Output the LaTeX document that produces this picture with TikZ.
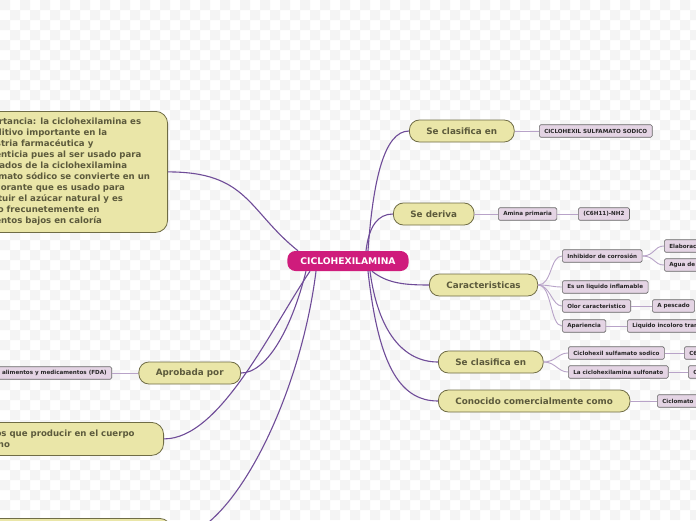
\documentclass[tikz,border=0pt]{standalone}
\usepackage{fontspec}
\setmainfont{DejaVu Sans}

\definecolor{midfill}{HTML}{CF1C7C}
\definecolor{topicfill}{HTML}{EAE6A8}
\definecolor{topicline}{HTML}{6F6C45}
\definecolor{topictext}{HTML}{5C5A3C}
\definecolor{leaffill}{HTML}{E4D4E4}
\definecolor{leafline}{HTML}{666666}
\definecolor{trunkcol}{HTML}{6F4C98}
\definecolor{twigcol}{HTML}{B8A3C8}
\definecolor{bgsq}{HTML}{F4F4F4}

\tikzset{
  mainbox/.style={rounded corners=8pt, fill=midfill, text=white,
    font=\fontsize{9.2}{10}\selectfont\bfseries, minimum height=20pt, inner xsep=13pt},
  topic/.style={rounded corners=10pt, draw=topicline, line width=0.8pt, fill=topicfill,
    text=topictext, font=\fontsize{8.8}{10}\selectfont\bfseries, minimum height=22pt, inner xsep=17pt},
  note/.style={rounded corners=12pt, draw=topicline, line width=0.8pt, fill=topicfill,
    text=topictext, font=\fontsize{8.6}{11}\selectfont\bfseries, align=left, inner ysep=6pt},
  leaf/.style={rounded corners=1.5pt, draw=leafline, line width=0.6pt, fill=leaffill,
    text=black!85, font=\fontsize{5.6}{6}\selectfont\bfseries, minimum height=12.5pt,
    inner xsep=5pt, inner ysep=0pt},
  trunk/.style={draw=trunkcol, line width=1.1pt},
  twig/.style={draw=twigcol, line width=0.9pt},
}

\begin{document}
\begin{tikzpicture}[x=1pt, y=-1pt]
    \useasboundingbox (0,0) rectangle (696,520);
    \clip (0,0) rectangle (696,520);
    \fill[white] (0,0) rectangle (696,520);
    \foreach \i in {0,20,...,680}
      \foreach \j in {0,20,...,500}
        \fill[bgsq] (\i,\j) rectangle ++(10,10) (\i+10,\j+10) rectangle ++(10,10);

    % centre
    \node[mainbox] (mid) at (348,261) {CICLOHEXILAMINA};

    % right side
    \node[topic, anchor=west] (clas) at (409,131) {Se clasifica en};
    \node[leaf, anchor=west] (sulf) at (539,131) {CICLOHEXIL SULFAMATO SODICO};

    \node[topic, anchor=west] (deriva) at (393,214) {Se deriva};
    \node[leaf, anchor=west] (amina) at (498,214) {Amina primaria};
    \node[leaf, anchor=west] (formula) at (578,214) {(C6H11)-NH2};

    \node[topic, anchor=west] (carac) at (429,285) {Caracteristicas};
    \node[leaf, anchor=west] (inhib) at (562,256) {Inhibidor de corrosión};
    \node[leaf, anchor=west] (elab) at (664,246) {Elaboración};
    \node[leaf, anchor=west] (agua) at (664,265) {Agua de calderas};
    \node[leaf, anchor=west] (infl) at (562,287) {Es un liquido inflamable};
    \node[leaf, anchor=west] (olor) at (562,306) {Olor caracteristico};
    \node[leaf, anchor=west] (pesc) at (652,306) {A pescado};
    \node[leaf, anchor=west] (apar) at (562,326) {Apariencia};
    \node[leaf, anchor=west] (liq) at (627,326) {Liquido incoloro transparente};

    \node[topic, anchor=west] (clasb) at (438,362) {Se clasifica en};
    \node[leaf, anchor=west] (csod) at (568,353) {Ciclohexil sulfamato sodico};
    \node[leaf, anchor=west] (csodf) at (684,353) {C6H12NNaO3S};
    \node[leaf, anchor=west] (csul) at (568,372) {La ciclohexilamina sulfonato};
    \node[leaf, anchor=west] (csulf) at (688,372) {C6H13NO3S};

    \node[topic, anchor=west] (cono) at (438,401) {Conocido comercialmente como};
    \node[leaf, anchor=west] (ciclo) at (657,401) {Ciclomato};

    % left side
    \node[note, anchor=north east, inner xsep=17.5pt, minimum height=121pt] (imp) at (168,111)
      {Importancia: la ciclohexilamina es\\
       un aditivo importante en la\\
       industria farmacéutica y\\
       alimenticia pues al ser usado para\\
       derivados de la ciclohexilamina\\
       sulfamato sódico se convierte en un\\
       edulcorante que es usado para\\
       sustituir el azúcar natural y es\\
       usado frecunetemente en\\
       alimentos bajos en caloría};

    \node[topic, anchor=east] (aprob) at (241,373) {Aprobada por};
    \node[leaf, anchor=east] (fda) at (112,373) {Administración de alimentos y medicamentos (FDA)};

    \node[note, anchor=north east, inner xsep=29pt, minimum height=33pt] (efe) at (164,422)
      {Efectos que producir en el cuerpo\\humano};

    \node[note, anchor=north east, minimum width=220pt, minimum height=40pt] (uso) at (172,518) {};

    % main branches
    \draw[trunk] ([xshift=20pt]mid.north) .. controls +(5,-70) and +(-25,0) .. (clas.west);
    \draw[trunk] ([xshift=18pt]mid.north) .. controls +(3,-25) and +(-15,0) .. (deriva.west);
    \draw[trunk] ([xshift=24pt]mid.south) .. controls +(15,12) and +(-25,0) .. (carac.west);
    \draw[trunk] ([xshift=22pt]mid.south) .. controls +(8,60) and +(-35,0) .. (clasb.west);
    \draw[trunk] ([xshift=20pt]mid.south) .. controls +(10,90) and +(-40,0) .. (cono.west);
    \draw[trunk] ([xshift=-50pt]mid.north) .. controls +(-50,-40) and +(80,0) .. (imp.east);
    \draw[trunk] ([xshift=-42pt]mid.south) .. controls +(-15,60) and +(25,0) .. (aprob.east);
    \draw[trunk] ([xshift=-38pt]mid.south) .. controls +(-40,59) and +(56,0) .. (efe.east);
    \draw[trunk] ([xshift=-32pt]mid.south) .. controls +(-16,129) and +(58,0) .. (uso.east);

    % leaves
    \draw[twig] (clas.east) -- (sulf.west);
    \draw[twig] (deriva.east) -- (amina.west);
    \draw[twig] (amina.east) -- (formula.west);
    \draw[twig] (carac.east) .. controls +(14,0) and +(-12,0) .. (inhib.west);
    \draw[twig] (inhib.east) .. controls +(12,0) and +(-10,0) .. (elab.west);
    \draw[twig] (inhib.east) .. controls +(12,0) and +(-10,0) .. (agua.west);
    \draw[twig] (carac.east) .. controls +(12,0) and +(-10,0) .. (infl.west);
    \draw[twig] (carac.east) .. controls +(12,0) and +(-10,0) .. (olor.west);
    \draw[twig] (olor.east) -- (pesc.west);
    \draw[twig] (carac.east) .. controls +(14,0) and +(-12,0) .. (apar.west);
    \draw[twig] (apar.east) -- (liq.west);
    \draw[twig] (clasb.east) .. controls +(12,0) and +(-10,0) .. (csod.west);
    \draw[twig] (clasb.east) .. controls +(12,0) and +(-10,0) .. (csul.west);
    \draw[twig] (csod.east) -- (csodf.west);
    \draw[twig] (csul.east) -- (csulf.west);
    \draw[twig] (cono.east) -- (ciclo.west);
    \draw[twig] (aprob.west) -- (fda.east);
\end{tikzpicture}
\end{document}
